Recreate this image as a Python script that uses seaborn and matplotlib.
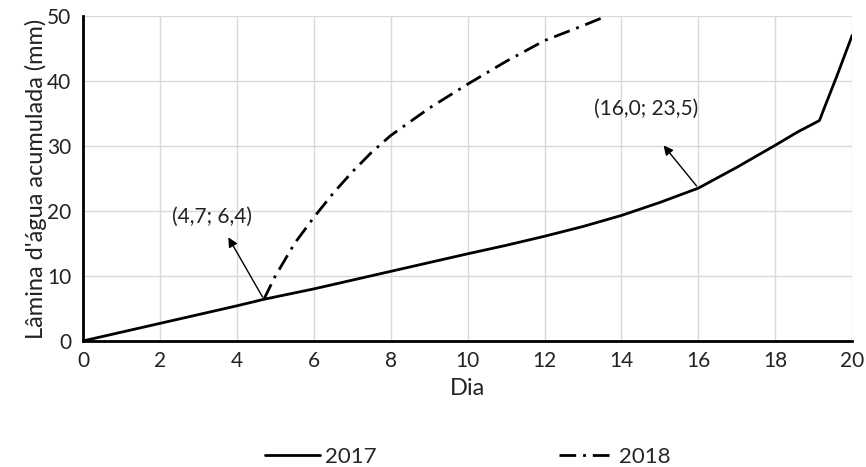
import matplotlib
matplotlib.use("Agg")
import matplotlib.pyplot as plt
import seaborn as sns
import pandas as pd

# Accumulated water depth (mm) per day
dia_2017 = [0, 2, 4, 4.7, 6, 8, 10, 11, 12, 13, 14, 15, 16, 17, 18, 18.6, 19.15, 19.3, 19.6, 20]
lamina_2017 = [0, 2.7, 5.4, 6.4, 8.0, 10.7, 13.4, 14.7, 16.1, 17.6, 19.3, 21.3, 23.5, 26.7, 30.1, 32.2,
               33.9, 36.2, 40.7, 47.0]

dia_2018 = [4.7, 5.0, 5.5, 6, 6.5, 7, 7.5, 8, 9, 10, 11, 12, 13, 13.5]
lamina_2018 = [6.4, 10.0, 15.0, 19.0, 22.7, 26.0, 29.0, 31.6, 35.8, 39.5, 43.0, 46.2, 48.5, 49.7]

anos = ["2017", "2018"]
x_ticks = list(range(0, 21, 2))
y_ticks = list(range(0, 51, 10))

df = pd.concat([
    pd.DataFrame({"Dia": dia_2017, "Lamina": lamina_2017, "Ano": anos[0]}),
    pd.DataFrame({"Dia": dia_2018, "Lamina": lamina_2018, "Ano": anos[1]}),
])

sns.set_style("white")
plt.rcParams["font.family"] = ["Lato", "DejaVu Sans"]

fig = plt.figure(figsize=(8.66, 4.67), dpi=100)
ax = fig.add_axes([0.096, 0.27, 0.888, 0.696])

sns.lineplot(data=df, x="Dia", y="Lamina", style="Ano", ax=ax, color="black",
             linewidth=2, dashes={"2017": "", "2018": (6, 2.5, 1, 2.5)},
             sort=False, estimator=None, legend=False)

ax.set_xlim(0, 20)
ax.set_ylim(0, 50)
ax.set_xticks(x_ticks)
ax.set_yticks(y_ticks)
ax.grid(True, color="#d9d9d9", linewidth=1)
ax.set_axisbelow(True)
for s in ["top", "right"]:
    ax.spines[s].set_visible(False)
for s in ["left", "bottom"]:
    ax.spines[s].set_color("black")
    ax.spines[s].set_linewidth(2)
ax.tick_params(axis="both", direction="out", length=5, width=1.5, color="black",
               labelsize=15, labelcolor="#222222")
ax.tick_params(axis="x", pad=2)
ax.set_xlabel("Dia", fontsize=17, color="#222222", labelpad=5)
ax.set_ylabel("Lâmina d'água acumulada (mm)", fontsize=17, color="#222222", labelpad=0)

# Point annotations
ax.annotate("", xy=(3.74, 16.3), xytext=(4.7, 6.4),
            arrowprops=dict(arrowstyle="-|>", color="black", lw=1, mutation_scale=14))
ax.text(3.36, 19.1, "(4,7; 6,4)", ha="center", va="center", fontsize=15, color="#222222")
ax.annotate("", xy=(15.05, 30.4), xytext=(16.0, 23.5),
            arrowprops=dict(arrowstyle="-|>", color="black", lw=1, mutation_scale=14))
ax.text(14.63, 35.7, "(16,0; 23,5)", ha="center", va="center", fontsize=15, color="#222222")

# Legend below the axes
h1, = ax.plot([], [], color="black", lw=2)
h2, = ax.plot([], [], color="black", lw=2, dashes=(6, 2.5, 1, 2.5))
ax.legend([h1, h2], anos, loc="upper center", bbox_to_anchor=(0.5, -0.265), ncol=2,
          frameon=False, fontsize=16, columnspacing=8.2, handlelength=2.5,
          handletextpad=0.2)

fig.savefig("out.png", dpi=100)
